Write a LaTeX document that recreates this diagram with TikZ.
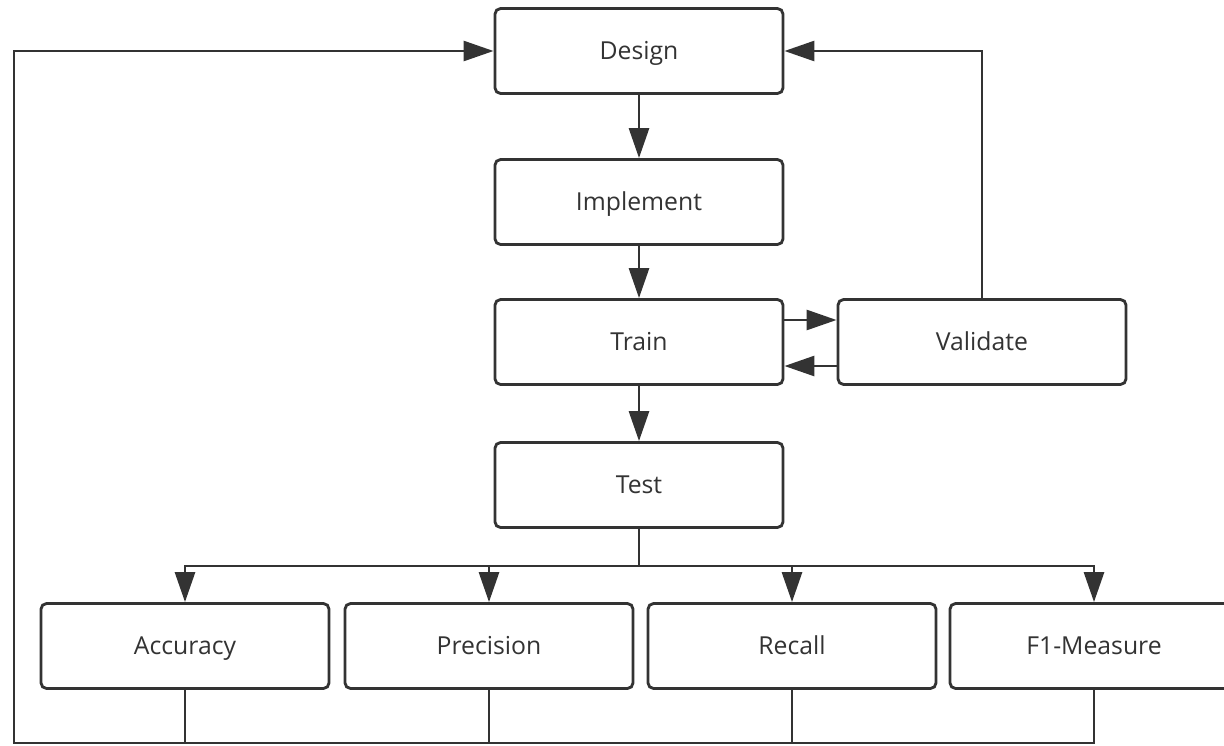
\documentclass[tikz,border=0pt]{standalone}
\usepackage{fontspec}
\setmainfont{Open Sans}
\usetikzlibrary{arrows.meta}
\definecolor{ink}{HTML}{333333}

\begin{document}
\begin{tikzpicture}[x=0.025cm, y=-0.025cm,
        box/.style={draw=ink, line width=2pt, rounded corners=4pt, fill=white,
            minimum width=7.2cm, minimum height=2.125cm, text=ink,
            text height=15pt, text depth=2.4pt,
            font=\fontsize{17.6}{20}\selectfont},
        flow/.style={draw=ink, line width=2pt, -{Triangle[length=0.75cm, width=0.5cm]}},
        wire/.style={draw=ink, line width=2pt}]
    \useasboundingbox (0,0) rectangle (1224,745);
    \clip (0,0) rectangle (1224,745);

    \node[box] (design) at (639,51) {Design};
    \node[box] (impl) at (639,202) {Implement};
    \node[box] (train) at (639,342) {Train};
    \node[box] (valid) at (982,342) {Validate};
    \node[box] (test) at (639,485) {Test};
    \node[box] (acc) at (185,646) {Accuracy};
    \node[box] (prec) at (489,646) {Precision};
    \node[box] (rec) at (792,646) {Recall};
    \node[box] (fone) at (1094,646) {F1-Measure};

    \coordinate (split) at (639,566);
    \coordinate (bl) at (14,743);
    \coordinate (tl) at (14,51);

    % main chain
    \draw[flow] (design) -- (impl);
    \draw[flow] (impl) -- (train);
    \draw[flow] (train) -- (test);
    \draw[flow] ([yshift=0.55cm]train.east) -- ([yshift=0.55cm]valid.west);
    \draw[flow] ([yshift=-0.6cm]valid.west) -- ([yshift=-0.6cm]train.east);
    \draw[flow] (valid.north) |- (design.east);

    % metrics
    \draw[wire] (test.south) -- (split);
    \draw[flow] (split) -| (acc.north);
    \draw[flow] (split) -| (prec.north);
    \draw[flow] (split) -| (rec.north);
    \draw[flow] (split) -| (fone.north);

    % back to design
    \draw[wire] (acc.south) -- (acc.south |- bl);
    \draw[wire] (prec.south) -- (prec.south |- bl);
    \draw[wire] (rec.south) -- (rec.south |- bl);
    \draw[flow] (fone.south) |- (bl) -- (tl) -- (design.west);
\end{tikzpicture}
\end{document}
